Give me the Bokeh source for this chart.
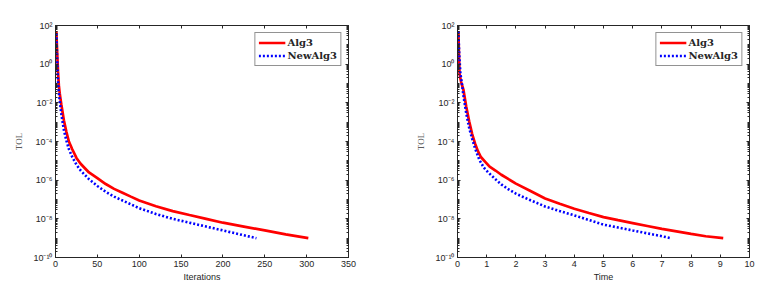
from bokeh.plotting import figure
from bokeh.layouts import row
from bokeh.models import (Range1d, FixedTicker, CustomJSTickFormatter, LogAxis,
                          LinearAxis, Legend, LegendItem)
from bokeh.embed import file_html
from bokeh.resources import INLINE

# ---------------- data ----------------
iter_alg3 = [1, 2, 3, 4, 5, 7, 10, 13, 16, 20, 25, 30, 40, 50, 60, 70, 80, 90, 100,
             120, 140, 160, 180, 200, 225, 250, 275, 302]
tol_iter_alg3 = [5.0e1, 3.98e0, 3.98e-1, 7.94e-2, 3.16e-2, 7.94e-3, 1.26e-3, 3.16e-4,
                 1.0e-4, 3.98e-5, 1.41e-5, 7.08e-6, 2.51e-6, 1.26e-6, 6.31e-7, 3.55e-7,
                 2.24e-7, 1.41e-7, 8.91e-8, 4.47e-8, 2.51e-8, 1.58e-8, 1.0e-8, 6.31e-9,
                 3.98e-9, 2.51e-9, 1.58e-9, 1.0e-9]

iter_new = [1, 2, 3, 4, 5, 7, 10, 13, 16, 20, 25, 30, 40, 50, 60, 70, 80, 90, 100,
            120, 140, 160, 180, 200, 220, 240]
tol_iter_new = [3.98e1, 1.58e0, 1.26e-1, 3.16e-2, 1.26e-2, 2.51e-3, 3.98e-4, 1.12e-4,
                3.98e-5, 1.58e-5, 6.31e-6, 3.16e-6, 1.12e-6, 5.01e-7, 2.51e-7, 1.41e-7,
                8.91e-8, 5.62e-8, 3.55e-8, 1.78e-8, 1.0e-8, 6.31e-9, 3.98e-9, 2.51e-9,
                1.58e-9, 1.0e-9]

time_alg3 = [0.03, 0.05, 0.07, 0.12, 0.2, 0.3, 0.4, 0.5, 0.6, 0.7, 0.8, 0.95, 1.1, 1.3,
             1.5, 1.75, 2.0, 2.5, 3.0, 3.5, 4.0, 4.5, 5.0, 5.5, 6.0, 6.5, 7.0, 7.5, 8.0,
             8.5, 9.1]
tol_time_alg3 = [5.0e1, 3.16e0, 3.16e-1, 1.26e-1, 5.01e-2, 6.31e-3, 1.12e-3, 2.51e-4,
                 7.94e-5, 3.16e-5, 1.58e-5, 8.91e-6, 5.01e-6, 3.16e-6, 1.91e-6, 1.12e-6,
                 6.61e-7, 2.75e-7, 1.12e-7, 6.03e-8, 3.31e-8, 2.0e-8, 1.23e-8, 8.51e-9,
                 6.03e-9, 4.27e-9, 3.02e-9, 2.24e-9, 1.66e-9, 1.26e-9, 1.0e-9]

time_new = [0.03, 0.06, 0.1, 0.15, 0.2, 0.3, 0.4, 0.5, 0.6, 0.75, 0.9, 1.05, 1.3, 1.5,
            1.75, 2.0, 2.5, 3.0, 3.5, 4.0, 4.5, 5.0, 5.5, 6.0, 6.5, 7.0, 7.3]
tol_time_new = [5.0e1, 3.16e0, 3.16e-1, 1.0e-1, 2.51e-2, 2.82e-3, 5.01e-4, 1.41e-4,
                4.47e-5, 1.12e-5, 4.47e-6, 2.51e-6, 1.12e-6, 6.03e-7, 3.31e-7, 2.0e-7,
                9.12e-8, 4.37e-8, 2.51e-8, 1.51e-8, 8.71e-9, 5.01e-9, 3.55e-9, 2.51e-9,
                1.78e-9, 1.26e-9, 1.0e-9]

y_major_exponents = [-10, -8, -6, -4, -2, 0, 2]
x_ticks_iter = [0, 50, 100, 150, 200, 250, 300, 350]
x_ticks_time = [0, 1, 2, 3, 4, 5, 6, 7, 8, 9, 10]
series_names = ["Alg3", "NewAlg3"]

# ---------------- styling ----------------
AX = "#262626"
SUP = """
const sup = {'-':'\u207b','0':'\u2070','1':'\u00b9','2':'\u00b2','3':'\u00b3','4':'\u2074',
             '5':'\u2075','6':'\u2076','7':'\u2077','8':'\u2078','9':'\u2079'};
const e = Math.round(Math.log10(tick));
return '10' + String(e).split('').map(c => sup[c]).join('');
"""
BLANK = "return '';"

y_major = [10.0 ** e for e in y_major_exponents]
y_minor = [m * 10.0 ** k for k in range(-10, 2) for m in range(1, 10)
           if not (m == 1 and k % 2 == 0)]


def style_axis(ax, labels=True):
    ax.axis_line_color = AX
    ax.axis_line_width = 1
    ax.major_tick_line_color = AX
    ax.minor_tick_line_color = AX
    ax.major_tick_in = 3
    ax.major_tick_out = 0
    ax.minor_tick_in = 2
    ax.minor_tick_out = 0
    ax.major_label_text_font = "Liberation Sans"
    ax.major_label_text_font_size = "9px"
    ax.major_label_text_color = AX
    ax.major_label_standoff = 3
    if not labels:
        ax.formatter = CustomJSTickFormatter(code=BLANK)


def make(xs, ys, xmax, xticks, xlabel, bl, br, fw):
    p = figure(frame_width=fw, frame_height=232,
               y_axis_type="log", output_backend="svg", toolbar_location=None,
               x_range=Range1d(0, xmax), y_range=Range1d(1e-10, 1e2),
               min_border_left=bl, min_border_right=br, min_border_top=25,
               min_border_bottom=24)
    p.background_fill_color = "white"
    p.border_fill_color = "white"
    p.outline_line_color = AX
    p.outline_line_width = 1
    p.xgrid.visible = False
    p.ygrid.visible = False

    xt = FixedTicker(ticks=xticks, minor_ticks=[])
    yt = FixedTicker(ticks=y_major, minor_ticks=y_minor)

    p.xaxis.ticker = xt
    p.yaxis.ticker = yt
    p.yaxis.formatter = CustomJSTickFormatter(code=SUP)
    for ax in p.xaxis:
        style_axis(ax)
        ax.axis_label = xlabel
        ax.axis_label_text_font = "Liberation Sans"
        ax.axis_label_text_font_size = "9px"
        ax.axis_label_text_font_style = "normal"
        ax.axis_label_text_color = AX
        ax.axis_label_standoff = 2
    for ax in p.yaxis:
        style_axis(ax)
        ax.axis_label = "TOL"
        ax.axis_label_text_font = "Liberation Serif"
        ax.axis_label_text_font_size = "9px"
        ax.axis_label_text_font_style = "normal"
        ax.axis_label_text_color = "#5a5a5a"
        ax.axis_label_standoff = 6

    right = LogAxis(ticker=FixedTicker(ticks=y_major, minor_ticks=y_minor))
    style_axis(right, labels=False)
    p.add_layout(right, "right")
    top = LinearAxis(ticker=FixedTicker(ticks=xticks, minor_ticks=[]))
    style_axis(top, labels=False)
    p.add_layout(top, "above")

    r1 = p.line(xs[0], ys[0], line_color="#ff0000", line_width=2.7)
    r2 = p.line(xs[1], ys[1], line_color="#0000ff", line_width=2.6, line_dash="2 2")

    leg = Legend(items=[LegendItem(label=series_names[0], renderers=[r1]),
                        LegendItem(label=series_names[1], renderers=[r2])],
                 location="top_right")
    leg.margin = 7
    leg.padding = 3
    leg.spacing = 0
    leg.label_height = 13
    leg.glyph_height = 13
    leg.glyph_width = 27
    leg.label_standoff = 2
    leg.label_text_font = "DejaVu Serif"
    leg.label_text_font_style = "bold"
    leg.label_text_font_size = "10px"
    leg.label_text_color = AX
    leg.border_line_color = AX
    leg.border_line_width = 1
    leg.background_fill_color = "white"
    leg.background_fill_alpha = 1
    p.add_layout(leg, "center")
    return p


p1 = make([iter_alg3, iter_new], [tol_iter_alg3, tol_iter_new], 350, x_ticks_iter,
          "Iterations", 55, 42, 293)
p2 = make([time_alg3, time_new], [tol_time_alg3, tol_time_new], 10, x_ticks_time,
          "Time", 67, 22, 292)

layout = row(p1, p2)
open("out.html", "w").write(file_html(layout, INLINE))
